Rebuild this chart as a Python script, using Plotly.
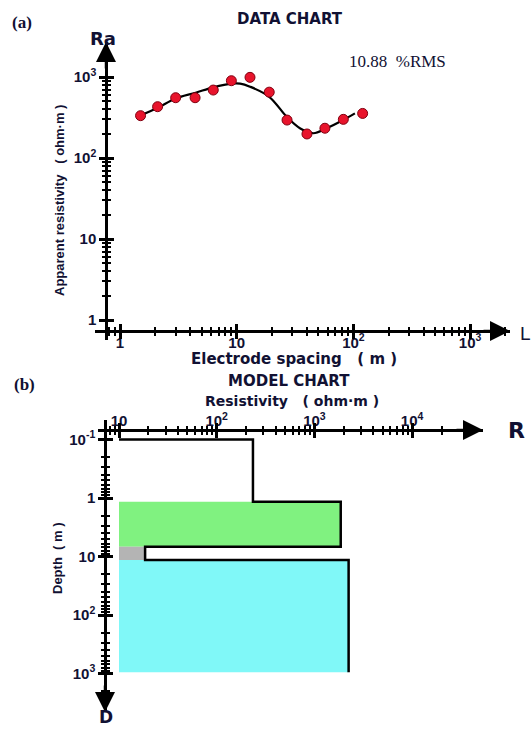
import plotly.graph_objects as go

# ---------------- data ----------------
# (a) sounding data
spacing = [1.5, 2.1, 3.0, 4.4, 6.3, 9.0, 13, 19, 27, 40, 57, 82, 120]
observed = [333, 430, 555, 555, 690, 900, 990, 650, 294, 198, 233, 300, 355]
curve_x = [1.48, 2.13, 2.96, 4.45, 6.3, 9.06, 10.7, 13, 19, 26.8, 34.8, 45.4, 59, 82, 103]
curve_y = [333, 420, 540, 640, 746, 830, 830, 760, 570, 323, 233, 202, 233, 294, 355]
rms_text = "10.88  %RMS"

# (b) layered model
layer_res = [235, 1860, 18.5, 2240]
layer_top = [0.1, 1.16, 6.8, 11.5]
model_bottom = 950
res_left = 10
layer_fill = [None, "rgb(128,242,128)", "rgb(180,180,180)", "rgb(128,248,248)"]

x_major_a = [1, 10, 100, 1000]
x_major_a_text = ["1", "10", "10<sup>2</sup>", "10<sup>3</sup>"]
y_major_a = [1, 10, 100, 1000]
y_major_a_text = ["1", "10", "10<sup>2</sup>", "10<sup>3</sup>"]
x_major_b = [10, 100, 1000, 10000]
x_major_b_text = ["10", "10<sup>2</sup>", "10<sup>3</sup>", "10<sup>4</sup>"]
y_major_b = [0.1, 1, 10, 100, 1000]
y_major_b_text = ["10<sup>-1</sup>", "1", "10", "10<sup>2</sup>", "10<sup>3</sup>"]

W, H = 532, 729


def minors(lo, hi):
    out = []
    d = lo
    while d < hi:
        for k in range(2, 10):
            out.append(k * d)
        d *= 10
    return out


def px(x):
    return x / W


def py(y):
    return (H - y) / H


fig = go.Figure()

# ---- panel (a) ----
fig.add_trace(go.Scatter(x=curve_x, y=curve_y, mode="lines", line=dict(color="black", width=2.2, shape="spline"),
                         xaxis="x", yaxis="y", showlegend=False, hoverinfo="skip"))
fig.add_trace(go.Scatter(x=spacing, y=observed, mode="markers",
                         marker=dict(size=10, color="#e8142c", line=dict(color="#800010", width=1)),
                         xaxis="x", yaxis="y", showlegend=False))

# ---- panel (b) ----
for i in range(len(layer_res)):
    if layer_fill[i] is None:
        continue
    top = layer_top[i]
    bot = layer_top[i + 1] if i + 1 < len(layer_top) else model_bottom
    fig.add_trace(go.Scatter(x=[res_left, layer_res[i], layer_res[i], res_left, res_left],
                             y=[top, top, bot, bot, top], mode="lines", fill="toself",
                             fillcolor=layer_fill[i], line=dict(width=0), xaxis="x2", yaxis="y2",
                             showlegend=False, hoverinfo="skip"))

step_x = [res_left]
step_y = [layer_top[0]]
for i in range(len(layer_res)):
    top = layer_top[i]
    bot = layer_top[i + 1] if i + 1 < len(layer_top) else model_bottom
    step_x += [layer_res[i], layer_res[i]]
    step_y += [top, bot]
fig.add_trace(go.Scatter(x=step_x, y=step_y, mode="lines", line=dict(color="black", width=2.5),
                         xaxis="x2", yaxis="y2", showlegend=False, hoverinfo="skip"))

tickfont = dict(family="Liberation Sans", size=15, color="#111133", weight="bold")


def axis_common(rng, dom, pos, tickvals, ticktext, minor_vals, side=None, inside=False, labels=True,
                standoff=0):
    d = dict(type="log", range=rng, domain=dom, anchor="free", position=pos,
             showline=True, linecolor="black", linewidth=2.5, showgrid=False, zeroline=False,
             ticks="inside" if inside else "outside", tickvals=tickvals, ticktext=ticktext,
             ticklen=6, tickwidth=3, tickcolor="black", showticklabels=labels, tickfont=tickfont,
             ticklabelstandoff=standoff,
             minor=dict(tickvals=minor_vals, ticks="inside" if inside else "outside",
                        ticklen=3, tickwidth=2, tickcolor="black"))
    if side:
        d["side"] = side
    return d


# panel (a) geometry: px = 120 + 116.7*log10(x); py = 320 - 81*log10(y)
xa_rng = [(95 - 120) / 116.7, (510 - 120) / 116.7]
ya_rng = [(320 - 340) / 81, (320 - 42) / 81]
xa_dom = [px(95), px(510)]
ya_dom = [py(340), py(42)]
# panel (b) geometry: px = 119 + 97.7*(log10(r)-1); py = 498 + 58.5*log10(d)
xb_rng = [1 + (98 - 119) / 97.7, 1 + (483 - 119) / 97.7]
yb_rng = [(712 - 498) / 58.5, (420 - 498) / 58.5]
xb_dom = [px(98), px(483)]
yb_dom = [py(712), py(420)]

xa_pos, ya_pos = py(331), px(106)
xb_pos, yb_pos = py(430), px(105)

mx_a = minors(1, 1000) + [0.8, 0.9] + [2000]
my_a = minors(1, 1000) + [2000]
mx_b = minors(10, 10000) + [8, 9, 20000]
my_b = minors(0.1, 1000) + [2000]

fig.update_layout(
    width=W, height=H, margin=dict(l=0, r=0, t=0, b=0),
    paper_bgcolor="white", plot_bgcolor="rgba(0,0,0,0)",
    xaxis=axis_common(xa_rng, xa_dom, xa_pos, x_major_a, x_major_a_text, mx_a, inside=True, standoff=-3),
    xaxis3=dict(axis_common(xa_rng, xa_dom, xa_pos, x_major_a, x_major_a_text, mx_a, labels=False),
                overlaying="x"),
    yaxis=axis_common(ya_rng, ya_dom, ya_pos, y_major_a, y_major_a_text, my_a),
    yaxis3=dict(axis_common(ya_rng, ya_dom, ya_pos, y_major_a, y_major_a_text, my_a, inside=True, labels=False),
                overlaying="y"),
    xaxis2=axis_common(xb_rng, xb_dom, xb_pos, x_major_b, x_major_b_text, mx_b, side="top", inside=True,
                       standoff=-3),
    xaxis4=dict(axis_common(xb_rng, xb_dom, xb_pos, x_major_b, x_major_b_text, mx_b, side="top",
                            labels=False), overlaying="x2"),
    yaxis2=axis_common(yb_rng, yb_dom, yb_pos, y_major_b, y_major_b_text, my_b),
    yaxis4=dict(axis_common(yb_rng, yb_dom, yb_pos, y_major_b, y_major_b_text, my_b, inside=True, labels=False),
                overlaying="y2"),
)

# invisible traces so overlay axes render
fig.add_trace(go.Scatter(x=[10], y=[10], xaxis="x3", yaxis="y3", mode="markers", marker=dict(opacity=0),
                         showlegend=False, hoverinfo="skip"))
fig.add_trace(go.Scatter(x=[100], y=[10], xaxis="x4", yaxis="y4", mode="markers", marker=dict(opacity=0),
                         showlegend=False, hoverinfo="skip"))

arrow = dict(showarrow=True, arrowhead=2, arrowsize=1.6, arrowwidth=2.5, arrowcolor="black", text="")
anns = [
    dict(arrow, xref="x domain", yref="paper", x=1, y=xa_pos, ax=-28, ay=0),
    dict(arrow, xref="paper", yref="y domain", x=ya_pos, y=1, ax=0, ay=28),
    dict(arrow, xref="x2 domain", yref="paper", x=1, y=xb_pos, ax=-28, ay=0),
    dict(arrow, xref="paper", yref="y2 domain", x=yb_pos, y=0, ax=0, ay=-28),
]

WIDE = "DejaVu Sans"


def label(text, x, y, size=13, family="Liberation Sans", bold=True, angle=0, color="#111133"):
    return dict(text=text, x=px(x), y=py(y), xref="paper", yref="paper", showarrow=False,
                xanchor="center", yanchor="middle", textangle=angle,
                font=dict(family=family, size=size, color=color, weight="bold" if bold else "normal"))


anns += [
    label("(a)", 22, 22, size=17, family="Liberation Serif"),
    label("DATA CHART", 290, 19, size=15, family=WIDE),
    label(rms_text, 397, 61, size=17, family="Liberation Serif", bold=False),
    label("Ra", 103, 38, size=18, family=WIDE),
    label("L", 525, 333, size=19, bold=False),
    label("Electrode spacing   ( m )", 294, 359, size=15, family=WIDE),
    label("Apparent resistivity   ( ohm·m )", 60, 201, size=13, angle=-90),
    label("(b)", 24, 384, size=17, family="Liberation Serif"),
    label("MODEL CHART", 289, 381, size=15, family=WIDE),
    label("Resistivity   ( ohm·m )", 292, 401, size=14, family=WIDE),
    label("R", 516, 430, size=22, family=WIDE),
    label("D", 106, 717, size=17, family=WIDE),
    label("Depth  ( m )", 57, 558, size=13, angle=-90),
]
fig.update_layout(annotations=anns)

fig.write_html("out.html")
